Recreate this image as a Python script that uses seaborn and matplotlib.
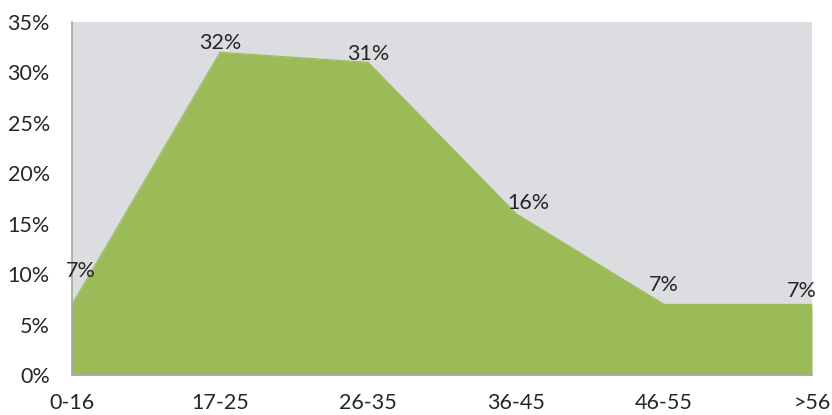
import matplotlib
matplotlib.use("Agg")
import matplotlib.pyplot as plt
import seaborn as sns
import pandas as pd

categories = ["0-16", "17-25", "26-35", "36-45", "46-55", ">56"]
values = [7, 32, 31, 16, 7, 7]
y_ticks = [0, 5, 10, 15, 20, 25, 30, 35]

sns.set_style("white")
plt.rcParams['font.family'] = ['Lato', 'DejaVu Sans']

df = pd.DataFrame({"pos": range(len(categories)), "val": values})

fig = plt.figure(figsize=(8.32, 4.15), dpi=100)
ax = fig.add_axes([72/832, 40/415, 740/832, 353/415])
ax.set_facecolor("#DCDDE0")
green = "#9BBB59"
sns.lineplot(data=df, x="pos", y="val", color=green, linewidth=0.8, ax=ax)
ax.fill_between(df["pos"], df["val"], 0, color=green, linewidth=0)

ax.set_xlim(0, len(categories) - 1)
ax.set_ylim(0, 35)
ax.set_xticks(range(len(categories)))
ax.set_xticklabels(categories)
ax.set_yticks(y_ticks)
ax.set_yticklabels([f"{t}%" for t in y_ticks])
ax.set_xlabel("")
ax.set_ylabel("")
ax.tick_params(axis="x", length=0, pad=13, labelsize=15.5, labelcolor="#262626")
ax.tick_params(axis="y", length=0, pad=16, labelsize=15.5, labelcolor="#262626")
for s in ["top", "right"]:
    ax.spines[s].set_visible(False)
for s in ["left", "bottom"]:
    ax.spines[s].set_color("#A6A6A6")
    ax.spines[s].set_linewidth(1.2)

offsets = [(6, 24), (0, 7), (0, 6), (9, 8), (0, 14), (-7, 10)]
for i, (v, off) in enumerate(zip(values, offsets)):
    ax.annotate(f"{v}%", (i, v), xytext=off, textcoords="offset points",
                ha="center", va="center", fontsize=15.5, color="#262626")

fig.savefig("out.png", dpi=100)
